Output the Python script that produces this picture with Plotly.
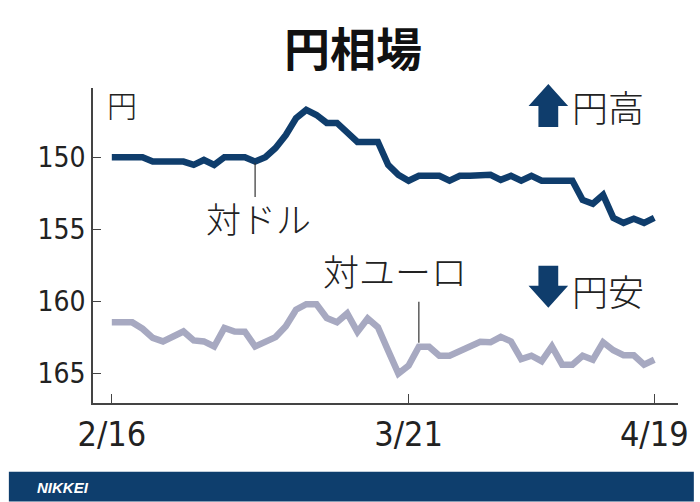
import pandas as pd
import plotly.graph_objects as go

# ---- data ----
all_days = pd.date_range("2024-02-16", "2024-04-19", freq="D")
days = [d for d in all_days if d.weekday() != 6 and d != pd.Timestamp("2024-03-30")]
dates = [f"{d.month}/{d.day}" for d in days]

usd_jpy = [150.0, 150.0, 150.0, 150.0, 150.3, 150.3, 150.3, 150.3, 150.53, 150.19,
           150.53, 150.0, 150.0, 150.0, 150.3, 150.0, 149.36, 148.46, 147.3, 146.72,
           147.07, 147.62, 147.62, 148.25, 148.94, 148.94, 148.94, 150.53, 151.22, 151.63,
           151.29, 151.29, 151.29, 151.63, 151.29, 151.29, 151.26, 151.22, 151.57, 151.29,
           151.63, 151.29, 151.63, 151.63, 151.63, 151.63, 152.96, 153.23, 152.61, 154.2,
           154.55, 154.27, 154.55, 154.2]

eur_jpy = [161.45, 161.45, 161.45, 161.89, 162.53, 162.77, 162.4, 162.08, 162.7, 162.77,
           163.12, 161.84, 162.08, 162.1, 163.12, 162.79, 162.47, 161.72, 160.57, 160.19,
           160.19, 161.15, 161.44, 160.83, 162.11, 161.18, 161.79, 163.41, 165.0, 164.45,
           163.14, 163.14, 163.76, 163.76, 163.45, 163.07, 162.79, 162.83, 162.45, 162.77,
           164.0, 163.76, 164.14, 163.12, 164.38, 164.38, 163.76, 164.04, 162.83, 163.38,
           163.73, 163.73, 164.38, 164.04]

x_ticks = ["2/16", "3/21", "4/19"]
y_ticks = [150, 155, 160, 165]

NAVY = "#0f3d6c"
GRAY = "#a7a9c1"
JP = "Noto Sans CJK JP"
NUM = "Liberation Sans Narrow, DejaVu Sans Condensed, Liberation Sans, sans-serif"

W, H = 700, 502
L, R, T, B = 93, 684, 88, 403.3


def px(x):
    return (x - L) / (R - L)


def py(y):
    return (B - y) / (B - T)


fig = go.Figure()
fig.add_trace(go.Scatter(x=dates, y=usd_jpy, mode="lines",
                         line=dict(color=NAVY, width=6.5, shape="linear"),
                         hoverinfo="skip"))
fig.add_trace(go.Scatter(x=dates, y=eur_jpy, mode="lines",
                         line=dict(color=GRAY, width=6.5, shape="linear"),
                         hoverinfo="skip"))

shapes = []
# leader lines for the two series labels
i_usd = 14
i_eur = 30
shapes.append(dict(type="line", xref="x", yref="paper", x0=dates[i_usd], x1=dates[i_usd],
                   y0=py(163), y1=py(197), line=dict(color="#333333", width=1.2)))
shapes.append(dict(type="line", xref="x", yref="paper", x0=dates[i_eur], x1=dates[i_eur],
                   y0=py(302), y1=py(343), line=dict(color="#333333", width=1.2)))

# up arrow
up = (f"M {px(543)} {py(127)} L {px(543)} {py(106)} L {px(533)} {py(106)} "
      f"L {px(553)} {py(84)} L {px(573)} {py(106)} L {px(563)} {py(106)} "
      f"L {px(563)} {py(127)} Z")
shapes.append(dict(type="path", xref="paper", yref="paper", path=up,
                   fillcolor=NAVY, line=dict(width=0)))
# down arrow
dn = (f"M {px(543)} {py(266)} L {px(543)} {py(286)} L {px(533)} {py(286)} "
      f"L {px(553)} {py(308)} L {px(573)} {py(286)} L {px(563)} {py(286)} "
      f"L {px(563)} {py(266)} Z")
shapes.append(dict(type="path", xref="paper", yref="paper", path=dn,
                   fillcolor=NAVY, line=dict(width=0)))
# footer band
shapes.append(dict(type="rect", xref="paper", yref="paper", x0=px(8), x1=px(700),
                   y0=py(472), y1=py(502), fillcolor="#0e3e6d", line=dict(width=0),
                   layer="below"))


def label(text, x, y, size, color="#222222", family=JP, xanchor="center", weight=300):
    return dict(text=text, x=px(x), y=py(y), xref="paper", yref="paper",
                xanchor=xanchor, yanchor="middle", showarrow=False,
                font=dict(family=family, size=size, color=color, weight=weight))


annotations = [
    label("円相場", 356, 46, 46, color="#111111", weight=700),
    label("円", 122, 104, 30),
    label("円高", 613, 106, 36),
    label("円安", 613, 290, 36),
    label("対ドル", 260, 218, 35),
    label("対ユーロ", 398, 270, 36),
    label("<i>NIKKEI</i>", 34, 488, 15, color="white",
          family="Liberation Sans, Arial, sans-serif", xanchor="left", weight=700),
]

fig.update_layout(
    width=W, height=H,
    margin=dict(l=L, r=W - R, t=T, b=H - B),
    paper_bgcolor="white", plot_bgcolor="white",
    showlegend=False,
    shapes=shapes, annotations=annotations,
    xaxis=dict(type="category", categoryorder="array", categoryarray=dates,
               range=[(L - 112) / 10.34, (R - 112) / 10.34],
               tickmode="array", tickvals=x_ticks, ticktext=x_ticks,
               ticks="inside", ticklen=9, tickwidth=1.2, tickcolor="#444444",
               showline=True, linecolor="#444444", linewidth=1.5,
               showgrid=False, zeroline=False,
               tickfont=dict(family=NUM, size=34, color="#222222")),
    yaxis=dict(range=[167.04, 145.2], tickmode="array", tickvals=y_ticks,
               ticks="inside", ticklen=8, tickwidth=1.2, tickcolor="#444444",
               showline=True, linecolor="#444444", linewidth=1.5,
               showgrid=False, zeroline=False,
               tickfont=dict(family=NUM, size=28, color="#222222")),
)

fig.write_html("out.html")
